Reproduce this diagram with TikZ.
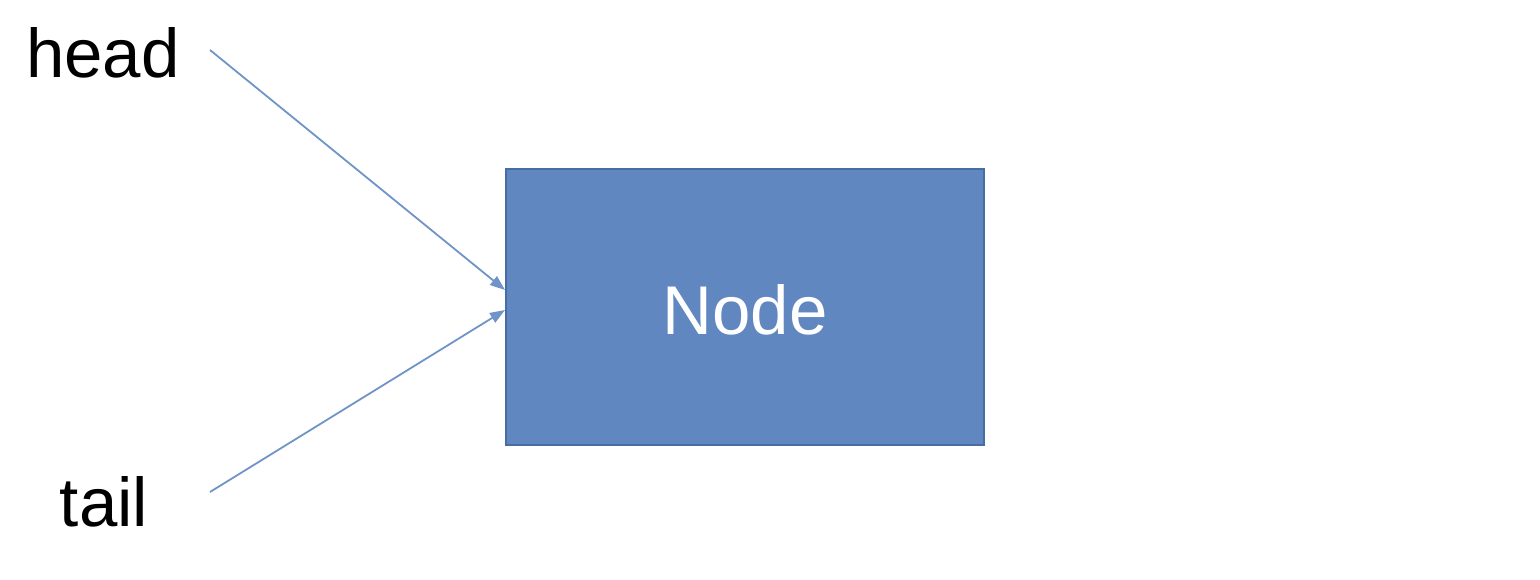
\documentclass[tikz,border=0pt]{standalone}
\usepackage{fontspec}
\setmainfont{Liberation Sans}
\usetikzlibrary{arrows.meta}
\definecolor{boxfill}{RGB}{96,135,192}
\definecolor{boxline}{RGB}{70,110,165}
\definecolor{arrowc}{RGB}{112,148,200}
\tikzset{
  lbl/.style={font=\fontsize{69}{80}\selectfont, text=black, inner sep=0pt},
  nodebox/.style={draw=boxline, line width=1.2pt, fill=boxfill, minimum width=478pt, minimum height=276pt, inner sep=0pt, font=\fontsize{69}{80}\selectfont, text=white, text height=54pt, text depth=0pt},
  ptr/.style={draw=arrowc, line width=1.8pt, -{Triangle[length=15pt,width=11pt]}}
}
\begin{document}
\begin{tikzpicture}[x=1pt,y=-1pt]
\useasboundingbox (0,0) rectangle (1540,580);
\node[nodebox] (box) at (745,307) {Node};
\node[lbl, anchor=base] (head) at (103,78) {head};
\node[lbl, anchor=base] (tail) at (104,526) {tail};
\coordinate (hs) at (210,50);
\coordinate (ts) at (210,492);
\coordinate (he) at (505,290);
\coordinate (te) at (505,310);
\draw[ptr] (hs) -- (he);
\draw[ptr] (ts) -- (te);
\end{tikzpicture}
\end{document}
